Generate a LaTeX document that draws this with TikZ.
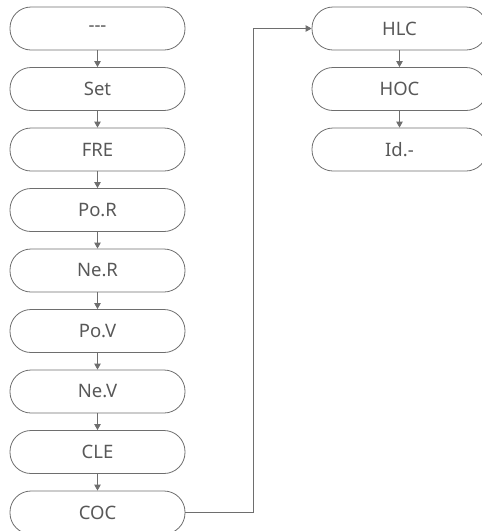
\documentclass[tikz,border=0pt]{standalone}
\usepackage{fontspec}
\setmainfont{Noto Sans}
\usetikzlibrary{arrows.meta}
\definecolor{linegray}{HTML}{6E6E6E}
\definecolor{textgray}{HTML}{585858}
\begin{document}
\begin{tikzpicture}[x=1pt,y=-1pt,
  box/.style={draw=linegray, line width=0.8pt, rounded corners=21pt, minimum width=175pt, minimum height=43pt, text=textgray, font=\fontsize{18.5}{22}\selectfont, inner sep=0pt},
  flow/.style={draw=linegray, line width=0.8pt, -{Triangle[length=6pt,width=6.5pt]}}]
\useasboundingbox (0,0) rectangle (482,531);
\node[box] (n1) at (97.5,28.5) {-{}-{}-};
\node[box] (n2) at (97.5,89) {Set};
\node[box] (n3) at (97.5,149.5) {FRE};
\node[box] (n4) at (97.5,210) {Po.R};
\node[box] (n5) at (97.5,270.5) {Ne.R};
\node[box] (n6) at (97.5,331) {Po.V};
\node[box] (n7) at (97.5,391.5) {Ne.V};
\node[box] (n8) at (97.5,452) {CLE};
\node[box] (n9) at (97.5,512.5) {COC};
\node[box] (r1) at (399.5,28.5) {HLC};
\node[box] (r2) at (399.5,89) {HOC};
\node[box] (r3) at (399.5,149.5) {Id.-};
\foreach \a/\b in {n1/n2,n2/n3,n3/n4,n4/n5,n5/n6,n6/n7,n7/n8,n8/n9,r1/r2,r2/r3}
  \draw[flow] (\a.south) -- (\b.north);
\coordinate (bend) at (253,512.5);
\draw[flow] (n9.east) -- (bend) |- (r1.west);
\end{tikzpicture}
\end{document}
